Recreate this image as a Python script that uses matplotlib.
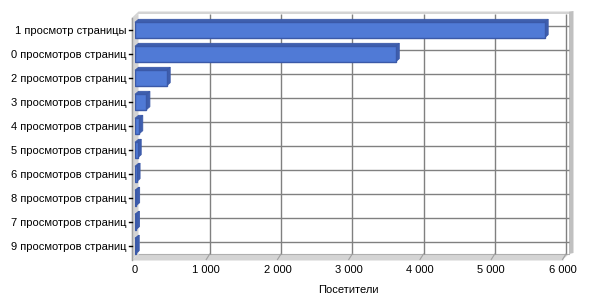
import matplotlib
matplotlib.use("Agg")
import matplotlib.pyplot as plt
from matplotlib.patches import Polygon
from matplotlib.ticker import FuncFormatter

# ---- data ----
categories = ["1 просмотр страницы", "0 просмотров страниц", "2 просмотров страниц",
              "3 просмотров страниц", "4 просмотров страниц", "5 просмотров страниц",
              "6 просмотров страниц", "8 просмотров страниц", "7 просмотров страниц",
              "9 просмотров страниц"]
visitors = [5750, 3660, 445, 160, 60, 38, 22, 16, 13, 10]
x_ticks = [0, 1000, 2000, 3000, 4000, 5000, 6000]
x_label = "Посетители"

# ---- style ----
FRONT = "#507ad6"
SIDE = "#3f5fae"
EDGE = "#3b59a8"
GRID = "#808080"
WALL = "#d4d4d4"
RWALL = "#c0c0c0"
FONT = "Liberation Sans"
FS = 8.0

W, H, DPI = 600, 300, 100
fig = plt.figure(figsize=(W / DPI, H / DPI), dpi=DPI)
fig.patch.set_facecolor("white")

# axes geometry in pixels (front plane)
x0_px, x1_px = 135.0, 562.5
ytop_px, ybot_px = 18.0, 258.0
ax = fig.add_axes([x0_px / W, 1 - ybot_px / H, (x1_px - x0_px) / W, (ybot_px - ytop_px) / H])
n = len(categories)
xmax = x_ticks[-1]
ax.set_xlim(0, xmax)
ax.set_ylim(n - 0.5, -0.5)
ax.patch.set_alpha(0)

sx = xmax / (x1_px - x0_px)          # data units per pixel (x)
sy = n / (ybot_px - ytop_px)         # data units per pixel (y), + is downward

def dxp(p):
    return p * sx

def dyp(p):
    return p * sy

# 3D depth offsets
BACK_DX, BACK_DY = dxp(3.5), -dyp(4.0)
LEFT_FRONT_DX = -dxp(3.3)
BAR_DX, BAR_DY = dxp(3.5), -dyp(3.0)

ytop_d = -0.5
ybot_d = n - 0.5
wall_top = ytop_d + BACK_DY - dyp(2.5)

# back wall top border
ax.add_patch(Polygon([(LEFT_FRONT_DX, ytop_d), (BACK_DX, wall_top),
                      (xmax + BACK_DX + dxp(3), wall_top), (xmax + BACK_DX + dxp(3), wall_top + dyp(2.5)),
                      (BACK_DX, wall_top + dyp(2.5)), (LEFT_FRONT_DX, ytop_d + dyp(2))],
                     closed=True, facecolor=WALL, edgecolor="none", clip_on=False, zorder=1))

# right wall
ax.add_patch(Polygon([(xmax + BACK_DX + dxp(3), wall_top), (xmax + BACK_DX + dxp(7.5), wall_top - dyp(0.5)),
                      (xmax + BACK_DX + dxp(7.5), ybot_d + BACK_DY - dyp(1)),
                      (xmax + BACK_DX + dxp(3), ybot_d + BACK_DY)],
                     closed=True, facecolor=RWALL, edgecolor="none", clip_on=False, zorder=1))

# left wall
ax.add_patch(Polygon([(LEFT_FRONT_DX, ytop_d + dyp(1)), (BACK_DX, wall_top + dyp(2.5)),
                      (BACK_DX, ybot_d + BACK_DY), (LEFT_FRONT_DX, ybot_d + dyp(2))],
                     closed=True, facecolor=WALL, edgecolor="none", clip_on=False, zorder=1))

# floor
ax.add_patch(Polygon([(LEFT_FRONT_DX, ybot_d + dyp(2)), (BACK_DX, ybot_d + BACK_DY),
                      (xmax + BACK_DX + dxp(3), ybot_d + BACK_DY),
                      (xmax + dxp(1), ybot_d + dyp(1)), (xmax + dxp(1), ybot_d + dyp(2.5)),
                      (LEFT_FRONT_DX, ybot_d + dyp(2.5))],
                     closed=True, facecolor=WALL, edgecolor="none", clip_on=False, zorder=1))
ax.plot([BACK_DX, xmax + BACK_DX + dxp(3)], [ybot_d + BACK_DY, ybot_d + BACK_DY],
        color="#b0b0b0", lw=0.8, clip_on=False, zorder=1.5)

# back gridlines (vertical)
for t in x_ticks[1:]:
    ax.plot([t + BACK_DX, t + BACK_DX], [wall_top + dyp(2.5), ybot_d + BACK_DY],
            color=GRID, lw=1.0, clip_on=False, zorder=2, solid_capstyle="butt")
    ax.plot([t + BACK_DX, t], [ybot_d + BACK_DY, ybot_d + dyp(1.5)],
            color="#a0a0a0", lw=0.8, clip_on=False, zorder=2)

# back gridlines (horizontal, at categories)
for i in range(n):
    ax.plot([BACK_DX, xmax + BACK_DX + dxp(3)], [i + BACK_DY, i + BACK_DY],
            color=GRID, lw=1.0, clip_on=False, zorder=2, solid_capstyle="butt")

# left axis line with tick marks
ax.plot([LEFT_FRONT_DX, LEFT_FRONT_DX], [ytop_d, ybot_d + dyp(2.5)], color="#a0a0a0",
        lw=1.0, clip_on=False, zorder=3)
for i in range(n):
    ax.plot([LEFT_FRONT_DX - dxp(3), LEFT_FRONT_DX], [i, i], color="#000000", lw=1.0,
            clip_on=False, zorder=3)

# bars: front faces
bh = 0.64
bars = ax.barh(range(n), visitors, height=bh, color=FRONT, edgecolor=EDGE, linewidth=1.0, zorder=5)
for i, v in enumerate(visitors):
    top = i - bh / 2
    bot = i + bh / 2
    # top face
    ax.add_patch(Polygon([(0, top), (BAR_DX, top + BAR_DY), (v + BAR_DX, top + BAR_DY), (v, top)],
                         closed=True, facecolor=SIDE, edgecolor=EDGE, linewidth=0.6,
                         clip_on=False, zorder=4))
    # side face
    ax.add_patch(Polygon([(v, top), (v + BAR_DX, top + BAR_DY), (v + BAR_DX, bot + BAR_DY), (v, bot)],
                         closed=True, facecolor=SIDE, edgecolor=EDGE, linewidth=0.6,
                         clip_on=False, zorder=4))

# ticks and labels
for s in ax.spines.values():
    s.set_visible(False)
ax.set_yticks(range(n))
ax.set_yticklabels(categories, family=FONT, fontsize=FS)
ax.set_xticks(x_ticks)
ax.xaxis.set_major_formatter(FuncFormatter(lambda v, p: f"{int(v):,}".replace(",", " ")))
ax.tick_params(axis="y", length=0, pad=6.0, labelcolor="black")
ax.tick_params(axis="x", length=0, pad=5, labelsize=FS, labelcolor="black")
for lbl in ax.get_xticklabels():
    lbl.set_family(FONT)
ax.set_xlabel(x_label, fontsize=FS, labelpad=7, family=FONT)

fig.savefig("out.png", dpi=DPI, facecolor="white")
